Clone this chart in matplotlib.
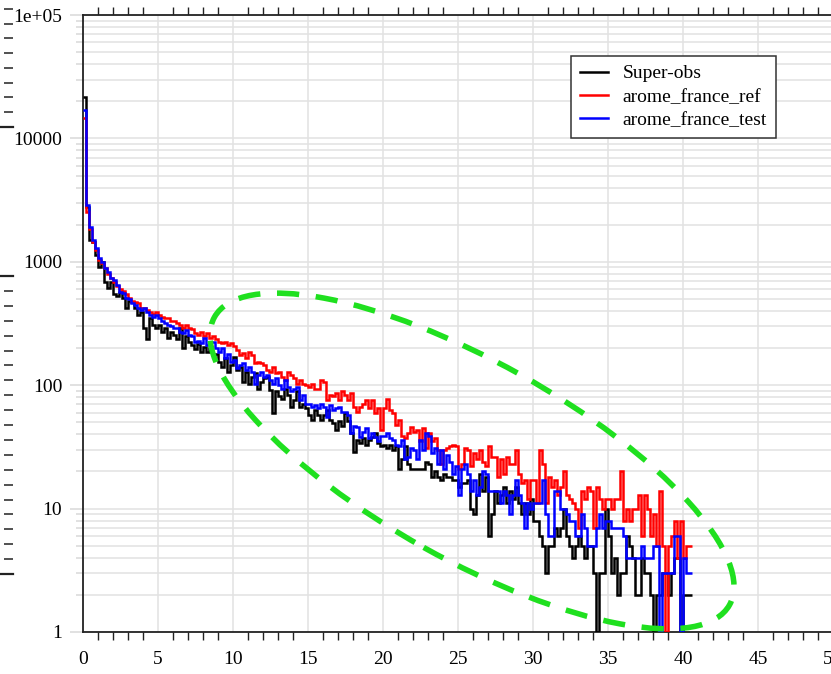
import numpy as np
import matplotlib
matplotlib.use("Agg")
import matplotlib.pyplot as plt
from matplotlib.patches import Ellipse
from matplotlib.ticker import MultipleLocator, FixedLocator, FuncFormatter, NullFormatter, LogLocator

plt.rcParams["font.family"] = ["Liberation Serif", "DejaVu Serif"]

bin_width = 0.2

super_obs = [
    21800, 2800, 1510, 1450, 1140, 910, 1000, 690, 610, 690,
    545, 530, 570, 510, 420, 480, 470, 420, 370, 390,
    290, 235, 350, 310, 290, 310, 270, 290, 240, 270,
    255, 235, 290, 200, 250, 225, 210, 195, 215, 185,
    205, 185, 200, 175, 180, 155, 140, 165, 128, 145,
    170, 133, 141, 107, 129, 103, 117, 125, 94, 107,
    114, 117, 91, 59, 89, 81, 78, 94, 83, 67,
    76, 89, 67, 71, 65, 57, 52, 63, 57, 52,
    57, 63, 52, 49, 43, 51, 47, 59, 51, 41,
    29, 36, 34, 37, 33, 36, 38, 41, 34, 32,
    33, 31, 33, 30, 32, 21, 25, 32, 23, 21,
    21, 21, 21, 21, 24, 23, 18, 20, 18, 17,
    19, 18, 18, 17, 17, 15, 16, 16, 17, 10,
    9, 13, 19, 14, 18, 6, 9, 14, 11, 13,
    15, 11, 14, 12, 15, 11, 9, 11, 9, 12,
    8, 8, 6, 5, 3, 5, 5, 7, 6, 7,
    10, 6, 5, 4, 5, 6, 5, 4, 5, 5,
    3, 1, 3, 3, 10, 6, 3, 4, 2, 3,
    3, 6, 5, 4, 2, 2, 4, 3, 3, 2,
    1, 2, 2, 3, 3, 2, 3, 4, 4, 1,
    2, 2, 2,
]

arome_ref = [
    14700, 2550, 1850, 1450, 1250, 1040, 970, 890, 790, 740,
    680, 640, 600, 580, 545, 510, 480, 470, 460, 420,
    420, 410, 395, 380, 395, 370, 360, 350, 350, 330,
    330, 320, 310, 290, 310, 290, 285, 265, 255, 270,
    250, 265, 240, 250, 235, 225, 220, 225, 210, 220,
    206, 194, 176, 181, 166, 187, 176, 150, 155, 150,
    146, 133, 129, 141, 125, 129, 117, 110, 129, 121,
    114, 103, 110, 103, 100, 97, 103, 94, 94, 110,
    107, 76, 83, 81, 86, 76, 89, 83, 76, 86,
    67, 61, 67, 71, 76, 65, 76, 59, 65, 43,
    65, 78, 63, 59, 48, 52, 39, 37, 41, 46,
    42, 43, 35, 45, 31, 41, 35, 37, 30, 23,
    30, 31, 32, 33, 32, 21, 23, 31, 30, 22,
    28, 25, 30, 24, 22, 32, 26, 26, 18, 25,
    19, 26, 23, 23, 30, 19, 16, 17, 12, 17,
    17, 11, 30, 23, 11, 18, 15, 17, 13, 15,
    20, 13, 12, 11, 10, 7, 14, 12, 15, 14,
    7, 15, 12, 10, 12, 12, 10, 12, 12, 20,
    8, 10, 8, 10, 10, 13, 6, 13, 10, 6,
    9, 5, 14, 5, 1, 5, 6, 8, 4, 8,
    4, 5, 5,
]

arome_test = [
    16900, 2900, 1900, 1510, 1300, 1070, 1000, 890, 830, 740,
    715, 650, 570, 560, 510, 495, 465, 450, 420, 410,
    420, 390, 370, 360, 370, 350, 330, 320, 310, 300,
    290, 290, 270, 265, 280, 255, 250, 225, 230, 220,
    240, 210, 225, 225, 200, 185, 200, 165, 180, 155,
    160, 137, 146, 150, 133, 141, 129, 103, 121, 129,
    117, 121, 110, 103, 114, 100, 94, 110, 97, 89,
    94, 97, 76, 83, 71, 71, 67, 69, 65, 71,
    67, 55, 69, 63, 65, 67, 61, 61, 57, 41,
    47, 46, 38, 42, 45, 37, 41, 38, 35, 39,
    39, 41, 37, 36, 33, 32, 36, 25, 26, 31,
    30, 25, 36, 30, 41, 39, 28, 31, 23, 30,
    21, 27, 24, 19, 22, 13, 21, 23, 19, 14,
    17, 13, 15, 20, 19, 14, 14, 14, 14, 11,
    14, 13, 9, 13, 17, 13, 11, 7, 11, 10,
    11, 11, 11, 17, 9, 6, 6, 14, 14, 10,
    10, 9, 8, 8, 6, 6, 9, 7, 5, 5,
    5, 7, 9, 7, 8, 8, 7, 7, 7, 7,
    6, 4, 4, 4, 4, 4, 5, 4, 4, 4,
    5, 5, 1, 3, 3, 3, 3, 6, 6, 1,
    4, 3, 3,
]

series = [("Super-obs", super_obs, "black"),
          ("arome_france_ref", arome_ref, "red"),
          ("arome_france_test", arome_test, "blue")]

y_labels = {1: "1", 10: "10", 100: "100", 1000: "1000", 10000: "10000", 100000: "1e+05"}

W, H = 831, 674
fig = plt.figure(figsize=(W / 100, H / 100), dpi=100)
ax = fig.add_axes([83 / W, 42 / H, 750 / W, 617 / H])

for name, vals, col in series:
    edges = np.arange(len(vals) + 1) * bin_width
    ax.stairs(vals, edges, baseline=None, color=col, lw=1.8, label=name, zorder=3)

ax.set_yscale("log")
ax.set_ylim(1, 1e5)
ax.set_xlim(0, 50)

ax.xaxis.set_major_locator(MultipleLocator(5))
ax.xaxis.set_minor_locator(MultipleLocator(1))
ax.yaxis.set_major_locator(LogLocator(base=10))
ax.yaxis.set_minor_locator(LogLocator(base=10, subs=np.arange(2, 10)))
ax.yaxis.set_major_formatter(FuncFormatter(lambda v, p: y_labels.get(int(round(v)), "")))
ax.yaxis.set_minor_formatter(NullFormatter())

ax.tick_params(axis="x", which="major", length=0, pad=14, labelsize=14, top=True)
ax.tick_params(axis="x", which="minor", length=5.5, width=1.0, color="#222222",
               direction="out", top=True, bottom=True)
ax.tick_params(axis="y", which="major", length=9.5, width=1.1, color="#d8d8d8",
               pad=5.5, labelsize=14)
ax.tick_params(axis="y", which="minor", length=5, width=1.1, color="#d8d8d8")

ax.set_axisbelow(True)
ax.grid(axis="y", which="both", color="#e2e2e2", lw=1.1)
ax.grid(axis="x", which="major", color="#e2e2e2", lw=1.1)

for s in ax.spines.values():
    s.set_color("#222222")
    s.set_linewidth(1.3)

leg = ax.legend(loc="upper left", bbox_to_anchor=(0.6507, 0.9335), borderaxespad=0,
                fontsize=14, frameon=True, fancybox=False, framealpha=1,
                edgecolor="#333333", handlelength=1.45, handletextpad=0.75,
                labelspacing=0.3, borderpad=0.45)
leg.get_frame().set_linewidth(1.1)
for line in leg.get_lines():
    line.set_linewidth(1.8)

# leftover tick marks of neighbouring panels at the left edge
for top_px, bot_px, n in [(0, 127, 8.6), (276, 574, 20)]:
    side = fig.add_axes([-50 / W, (H - bot_px) / H, 63 / W, (bot_px - top_px) / H])
    side.set_ylim(0, n)
    side.set_xticks([])
    side.yaxis.set_major_locator(FixedLocator(np.arange(1, int(np.ceil(n)))))
    side.yaxis.tick_right()
    side.tick_params(axis="y", direction="in", length=6.5, width=1.1, color="#222222",
                     labelright=False)
    side.patch.set_visible(False)
    for k in ["left", "right"]:
        side.spines[k].set_visible(False)
    side.spines["top"].set_visible(top_px > 0)
    for k in ["top", "bottom"]:
        side.spines[k].set_color("#222222")
        side.spines[k].set_linewidth(1.6)

# green dashed highlight around the tail
ell = Ellipse((4.72, 2.13), 5.9, 1.98, angle=-29.2, transform=fig.dpi_scale_trans,
              fill=False, edgecolor="#1fe01f", lw=4, linestyle=(0, (4, 3)), zorder=5)
fig.add_artist(ell)

fig.savefig("out.png", dpi=100)
